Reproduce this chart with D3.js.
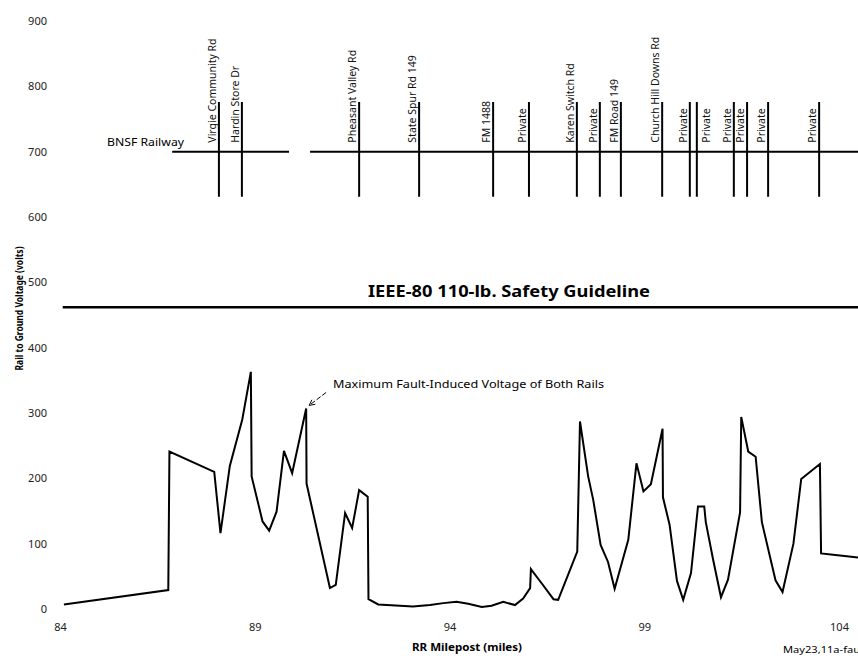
<!DOCTYPE html>
<html>
<head>
<meta charset="utf-8">
<script src="https://cdn.jsdelivr.net/npm/d3@7/dist/d3.min.js"></script>
<style>
  html, body { margin: 0; padding: 0; background: #fff; }
  svg { display: block; }
</style>
</head>
<body>
<svg id="chart" width="858" height="659"></svg>
<script>
// ---------------- DATA ----------------
const mileposts = [84.10, 86.78, 86.81, 87.96, 88.12, 88.36, 88.68, 88.90, 88.92, 89.20, 89.37, 89.56, 89.75, 89.96, 90.32, 90.33, 90.93, 91.08, 91.32, 91.50, 91.68, 91.90, 91.92,
  92.17, 92.73, 93.06, 93.50, 93.84, 94.18, 94.48, 94.83, 95.08, 95.38, 95.68, 95.89, 96.07, 96.09, 96.37, 96.67, 96.79,
  97.28, 97.35, 97.56, 97.69, 97.88, 98.07, 98.24, 98.59, 98.80, 98.98, 99.17, 99.47, 99.48, 99.65, 99.84, 100.00,
  100.20, 100.38, 100.54, 100.58, 100.77, 100.97, 101.15, 101.46, 101.49, 101.67, 101.86, 102.02, 102.37, 102.55,
  102.83, 103.03, 103.51, 103.54, 103.85, 104.60];
const voltages = [7, 29, 241, 210, 116, 219, 290, 363, 203, 134, 120, 149, 242, 208, 307, 192, 32, 37, 147, 124, 182, 172, 15,
  7, 5, 4, 6, 9, 11, 8, 3, 5, 11, 6, 16, 32, 61, 39, 15, 14,
  88, 287, 203, 167, 98, 72, 31, 106, 223, 180, 191, 276, 171, 129, 43, 14,
  55, 157, 157, 133, 75, 18, 45, 148, 294, 241, 233, 133, 44, 26,
  100, 199, 222, 85, 83, 78];

const crossingMiles = [88.08, 88.67, 91.68, 93.22, 95.12, 96.04, 97.27, 97.86, 98.40, 99.46, 100.17, 100.35, 101.30, 101.64, 102.18, 103.49];
const crossingNames = ["Virgie Community Rd", "Hardin Store Dr", "Pheasant  Valley Rd", "State Spur Rd  149", "FM 1488", "Private",
  "Karen Switch Rd", "Private", "FM Road 149", "Church Hill Downs Rd", "Private", "Private", "Private", "Private", "Private", "Private"];
const crossingLabelSide = ["left", "left", "left", "left", "left", "left", "left", "left", "left", "left", "left", "right", "left", "left", "left", "left"];

const railwaySegments = [[86.88, 89.88], [90.42, 105]];
const railwayLevel = 700;
const crossingTop = 776;
const crossingBottom = 631;
const railwayName = "BNSF Railway";

const guidelineValue = 462;
const guidelineLabel = "IEEE-80 110-lb. Safety Guideline";
const peakNote = "Maximum  Fault-Induced  Voltage of Both Rails";
const peakMile = 90.32, peakVolt = 307;

const xTicks = [84, 89, 94, 99, 104];
const yTicks = [0, 100, 200, 300, 400, 500, 600, 700, 800, 900];
const xTitle = "RR Milepost (miles)";
const yTitle = "Rail to Ground Voltage (volts)";
const footNote = "May23,11a-fault";

// ---------------- CHART ----------------
const svg = d3.select("#chart");
const W = 858, H = 659;
const font = "'Noto Sans', 'Open Sans', sans-serif";

const x = d3.scaleLinear().domain([84, 104]).range([60, 839]);
const y = d3.scaleLinear().domain([0, 900]).range([609, 21]);

// Y tick labels
const yAxis = svg.append("g").attr("transform", "translate(47,0)")
  .call(d3.axisLeft(y).tickValues(yTicks).tickSize(0).tickPadding(0).tickFormat(d3.format("d")));
yAxis.select(".domain").remove();
yAxis.selectAll("text").attr("font-family", font).attr("font-size", 11).attr("fill", "#222");

// X tick labels
const xAxis = svg.append("g").attr("transform", "translate(0,619)")
  .call(d3.axisBottom(x).tickValues(xTicks).tickSize(0).tickPadding(4).tickFormat(d3.format("d")));
xAxis.select(".domain").remove();
xAxis.selectAll("text").attr("font-family", font).attr("font-size", 11).attr("fill", "#222");

// Axis titles
svg.append("text")
  .attr("transform", `translate(23,${y(460)}) rotate(-90)`)
  .attr("text-anchor", "middle")
  .attr("font-family", font).attr("font-weight", "bold").attr("font-size", 10.5)
  .attr("textLength", 124).attr("lengthAdjust", "spacingAndGlyphs")
  .text(yTitle);

svg.append("text")
  .attr("x", 467).attr("y", 651)
  .attr("text-anchor", "middle")
  .attr("font-family", font).attr("font-weight", "bold").attr("font-size", 11)
  .attr("textLength", 110).attr("lengthAdjust", "spacingAndGlyphs")
  .text(xTitle);

svg.append("text")
  .attr("x", 783).attr("y", 653)
  .attr("font-family", font).attr("font-size", 9)
  .attr("textLength", 84).attr("lengthAdjust", "spacingAndGlyphs")
  .text(footNote);

// Safety guideline
svg.append("line")
  .attr("x1", x(84.07)).attr("x2", W + 5)
  .attr("y1", y(guidelineValue)).attr("y2", y(guidelineValue))
  .attr("stroke", "#000").attr("stroke-width", 2.5);
svg.append("text")
  .attr("x", 368).attr("y", y(guidelineValue) - 10)
  .attr("font-family", font).attr("font-weight", "bold").attr("font-size", 16.5)
  .attr("textLength", 282).attr("lengthAdjust", "spacingAndGlyphs")
  .text(guidelineLabel);

// Railway
svg.selectAll("line.rail").data(railwaySegments).enter().append("line")
  .attr("class", "rail")
  .attr("x1", d => x(d[0])).attr("x2", d => x(d[1]))
  .attr("y1", y(railwayLevel)).attr("y2", y(railwayLevel))
  .attr("stroke", "#000").attr("stroke-width", 2);
svg.append("text")
  .attr("x", 107).attr("y", y(railwayLevel) - 6)
  .attr("font-family", font).attr("font-size", 11.5)
  .attr("textLength", 77).attr("lengthAdjust", "spacingAndGlyphs")
  .text(railwayName);

// Crossings
const crossings = crossingMiles.map((m, i) => ({ m, name: crossingNames[i], side: crossingLabelSide[i] }));
svg.selectAll("line.cross").data(crossings).enter().append("line")
  .attr("class", "cross")
  .attr("x1", d => x(d.m)).attr("x2", d => x(d.m))
  .attr("y1", y(crossingTop)).attr("y2", y(crossingBottom))
  .attr("stroke", "#000").attr("stroke-width", 2);
svg.selectAll("text.cross").data(crossings).enter().append("text")
  .attr("class", "cross")
  .attr("transform", d => `translate(${x(d.m) + (d.side === "left" ? -3 : 13)},${y(railwayLevel) - 9}) rotate(-90)`)
  .attr("font-family", font).attr("font-size", 10.5)
  .attr("fill", "#111")
  .text(d => d.name);

// Data line
const pts = mileposts.map((m, i) => [m, voltages[i]]);
svg.append("path")
  .datum(pts)
  .attr("fill", "none").attr("stroke", "#000").attr("stroke-width", 2)
  .attr("stroke-linejoin", "miter")
  .attr("d", d3.line().x(d => x(d[0])).y(d => y(d[1])));

// Peak annotation
const px = x(peakMile), py = y(peakVolt);
svg.append("defs").append("marker")
  .attr("id", "arr").attr("viewBox", "0 0 10 10").attr("refX", 9).attr("refY", 5)
  .attr("markerWidth", 7).attr("markerHeight", 7).attr("orient", "auto")
  .append("path").attr("d", "M1,1 L9,5 L1,9").attr("fill", "none").attr("stroke", "#000").attr("stroke-width", 1.3);
svg.append("line")
  .attr("x1", px + 20).attr("y1", py - 16)
  .attr("x2", px + 3).attr("y2", py - 3)
  .attr("stroke", "#000").attr("stroke-width", 1)
  .attr("stroke-dasharray", "5,2")
  .attr("marker-end", "url(#arr)");
svg.append("text")
  .attr("x", 333).attr("y", py - 20)
  .attr("font-family", font).attr("font-size", 11)
  .attr("textLength", 271).attr("lengthAdjust", "spacingAndGlyphs")
  .text(peakNote);
</script>
</body>
</html>
